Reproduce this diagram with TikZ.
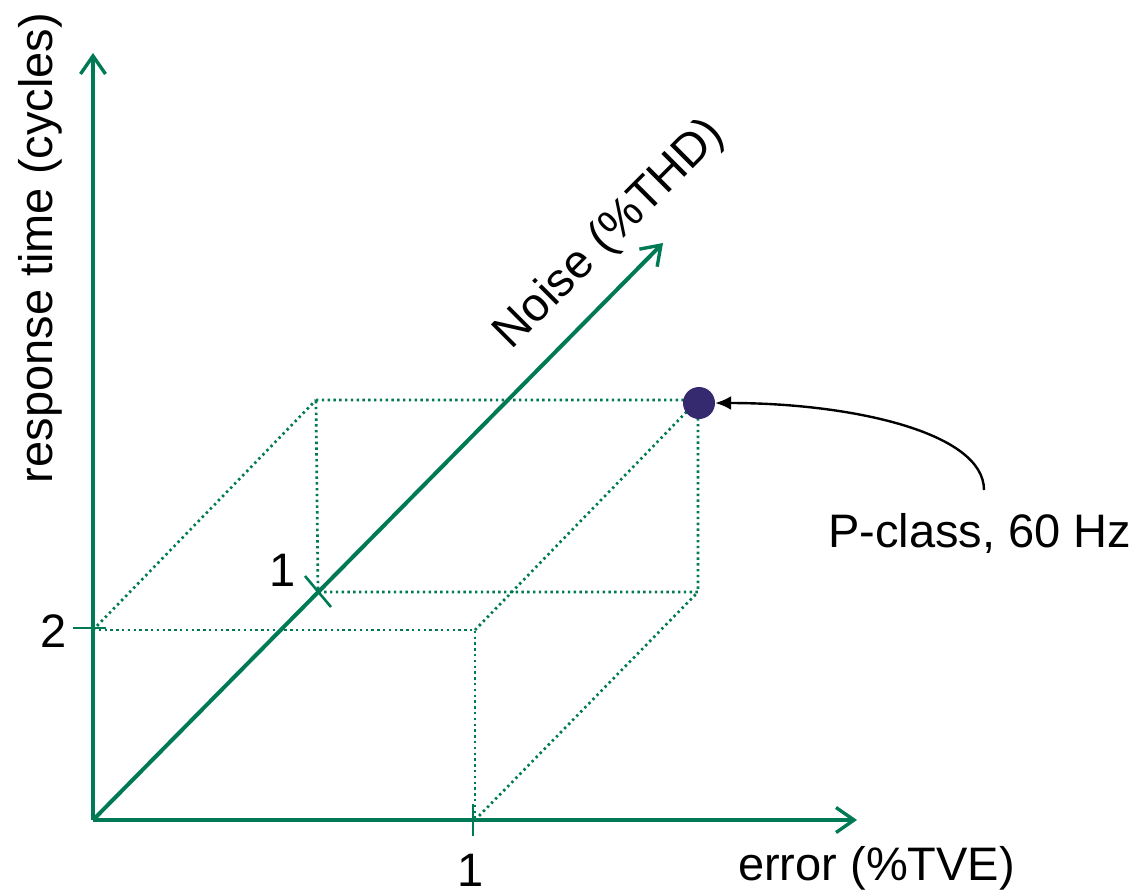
\documentclass[tikz,border=0pt]{standalone}
\usepackage{fontspec}
\setmainfont{Liberation Sans}
\usetikzlibrary{arrows.meta}
\definecolor{axgreen}{RGB}{0,122,84}
\definecolor{dotblue}{RGB}{53,41,112}
\begin{document}
\begin{tikzpicture}[x=1pt,y=-1pt,
  axisline/.style={draw=axgreen, line width=4.4pt, -{Straight Barb[length=18pt,width=25pt,line width=3.4pt]}},
  noiseline/.style={draw=axgreen, line width=4pt, -{Straight Barb[length=18pt,width=25pt,line width=3.4pt]}},
  boxline/.style={draw=axgreen, line width=2.7pt, dash pattern=on 2.4pt off 3.4pt},
  tickline/.style={draw=axgreen, line width=2.6pt},
  lbl/.style={font=\fontsize{47}{56}\selectfont, inner sep=0pt, text=black},
  dotmark/.style={circle, fill=dotblue, minimum size=32pt, inner sep=0pt}]
\useasboundingbox (0,0) rectangle (1145,892);
% axis coordinates
\coordinate (O) at (93,820);
\coordinate (ytip) at (93,53);
\coordinate (xtip) at (857,820);
\coordinate (ntip) at (663,243);
% box corners
\coordinate (A) at (93,630);
\coordinate (B) at (475,630);
\coordinate (C) at (475,820);
\coordinate (D) at (316,400);
\coordinate (E) at (698,400);
\coordinate (F) at (698,592);
\coordinate (G) at (318,592);
% dotted box
\draw[boxline] (A) -- (B) -- (C);
\draw[boxline] (A) -- (D);
\draw[boxline] (B) -- (E);
\draw[boxline] (C) -- (F);
\draw[boxline] (D) -- (E) -- (F) -- (G) -- (D);
% axes
\draw[axisline] (O) -- (ytip);
\draw[axisline] (O) -- (xtip);
\draw[noiseline] (O) -- (ntip);
% ticks
\coordinate (xt1) at (473,804); \coordinate (xt2) at (473,836);
\coordinate (yt1) at (73,628);  \coordinate (yt2) at (106,628);
\coordinate (nt1) at (305,576); \coordinate (nt2) at (331,607);
\draw[tickline] (xt1) -- (xt2);
\draw[tickline] (yt1) -- (yt2);
\draw[tickline] (nt1) -- (nt2);
% point
\node[dotmark] (pt) at (699,403) {};
% labels
\node[lbl, rotate=90, anchor=base] (ylab) at (52,248) {response time (cycles)};
\node[lbl, anchor=base west] (xlab) at (738,880) {error (\%TVE)};
\node[lbl, rotate=45, anchor=base] (nlab) at (619,243) {Noise (\%THD)};
\node[lbl, anchor=base west] (plab) at (828,547) {P-class, 60 Hz};
\node[lbl, anchor=base] (two) at (54,647) {2};
\node[lbl, anchor=base] (onex) at (471,886) {1};
\node[lbl, anchor=base] (onen) at (283,586) {1};
% annotation arrow
\coordinate (pc) at (984,490);
\draw[black, line width=2.4pt, -{Latex[length=16pt,width=14pt]}] (pc) .. controls (984,432) and (850,403) .. (pt);
\end{tikzpicture}
\end{document}
